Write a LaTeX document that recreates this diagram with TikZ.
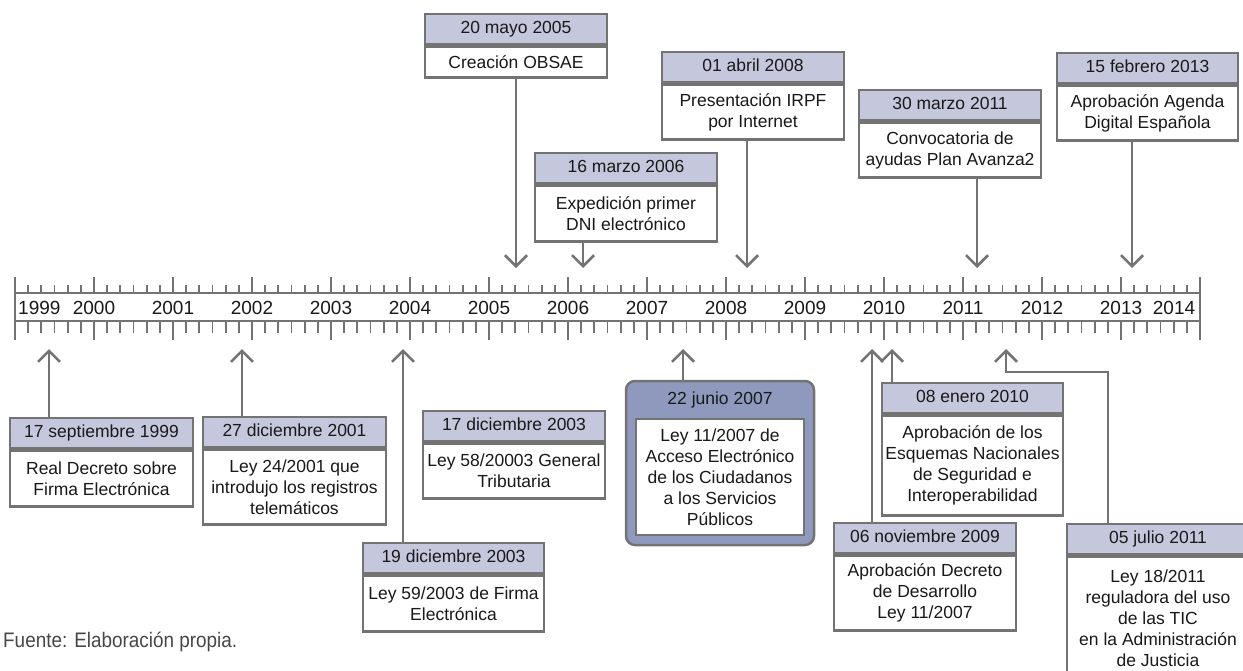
\documentclass[tikz,border=0pt]{standalone}
\usepackage{fontspec}
\setmainfont{Liberation Sans}
\usetikzlibrary{arrows.meta}
\definecolor{lg}{RGB}{115,115,115}
\definecolor{hf}{RGB}{197,199,221}
\definecolor{jf}{RGB}{143,153,190}
\definecolor{tx}{RGB}{25,25,25}
\newcommand\fs{\fontsize{17.5}{21}\selectfont}
\newcommand\tlbox[7]{%
  \node[hdr,minimum width=#4pt] (#1h) at (#2,#3+15) {#6};
  \node[bdy,minimum width=#4pt,minimum height=#5pt,anchor=north] (#1b) at (#1h.south) {#7};}
\begin{document}
\begin{tikzpicture}[x=1pt,y=-1pt,
  hdr/.style={draw=lg,line width=2.5pt,fill=hf,minimum height=30pt,inner sep=0pt,font=\fs,text=tx,text height=12.5pt,text depth=3.5pt},
  bdy/.style={draw=lg,line width=2.5pt,fill=white,align=center,inner sep=0pt,font=\fs,text=tx},
  arr/.style={draw=lg,line width=2.5pt,-{Straight Barb[length=11pt,width=22pt]}},
  tk/.style={draw=lg,line width=2pt},
  tks/.style={draw=lg,line width=1.7pt},
  yr/.style={font=\fontsize{19}{22}\selectfont,text=tx,inner sep=0pt}]
\useasboundingbox (0,0) rectangle (1243,670);
\clip (0,0) rectangle (1243,670);
% timeline
\draw[tk,fill=white] (15,293) rectangle (1200,321);
\foreach \k in {0,...,15} {
  \draw[tk] ({15+79*\k},277) -- ({15+79*\k},293);
  \draw[tk] ({15+79*\k},321) -- ({15+79*\k},340);}
\foreach \k in {0,...,14} {\foreach \j in {1,...,5} {
  \draw[tks] ({15+79*\k+79*\j/6},285) -- ++(0,8);
  \draw[tks] ({15+79*\k+79*\j/6},321) -- ++(0,12);}}
\node[yr,anchor=west] (y1999) at (18,308) {1999};
\foreach \yy [count=\k] in {2000,...,2013} {\node[yr] (y\yy) at ({15+79*\k},308) {\yy};}
\node[yr] (y2014) at (1174,308) {2014};
% top boxes
\tlbox{may}{516}{14}{182}{31}{20 mayo 2005}{Creación OBSAE}
\tlbox{mar}{626}{153}{182}{56}{16 marzo 2006}{Expedición primer\\DNI electrónico}
\tlbox{abr}{753}{52}{182}{55}{01 abril 2008}{Presentación IRPF\\por Internet}
\tlbox{mzo}{950}{90}{182}{55}{30 marzo 2011}{Convocatoria de\\ayudas Plan Avanza2}
\tlbox{feb}{1147.5}{53}{181}{55}{15 febrero 2013}{Aprobación Agenda\\Digital Española}
% bottom boxes
\tlbox{sep}{101.5}{418}{183}{56}{17 septiembre 1999}{Real Decreto sobre\\Firma Electrónica}
\tlbox{dic}{294.5}{417}{183}{75}{27 diciembre 2001}{Ley 24/2001 que\\introdujo los registros\\telemáticos}
\tlbox{dica}{514}{411}{182}{55}{17 diciembre 2003}{Ley 58/20003 General\\Tributaria}
\tlbox{dicb}{453.5}{543}{181}{56}{19 diciembre 2003}{Ley 59/2003 de Firma\\Electrónica}
\tlbox{nov}{925}{523}{182}{75}{06 noviembre 2009}{Aprobación Decreto\\de Desarrollo\\Ley 11/2007}
\tlbox{ene}{972.5}{383}{181}{100}{08 enero 2010}{Aprobación de los\\Esquemas Nacionales\\de Seguridad e\\Interoperabilidad}
\tlbox{jul}{1158}{524}{182}{124}{05 julio 2011}{Ley 18/2011\\reguladora del uso\\de las TIC\\en la Administración\\de Justicia}
% highlighted box
\node[draw=lg,line width=2.5pt,fill=jf,rounded corners=9pt,minimum width=188pt,minimum height=164pt,inner sep=0pt] (junO) at (720,463) {};
\node[font=\fs,text=tx,inner sep=0pt] (junH) at (720,400) {22 junio 2007};
\node[bdy,line width=2pt,minimum width=168pt,minimum height=116pt] (junB) at (720,477) {Ley 11/2007 de\\Acceso Electrónico\\de los Ciudadanos\\a los Servicios\\Públicos};
% tips
\coordinate (tmay) at (516,268);
\coordinate (tmar) at (583,268);
\coordinate (tabr) at (747,268);
\coordinate (tmzo) at (977,268);
\coordinate (tfeb) at (1132,268);
\coordinate (tsep) at (49,349);
\coordinate (tdic) at (242,349);
\coordinate (tdicb) at (403,349);
\coordinate (tjun) at (683,349);
\coordinate (tnov) at (872,349);
\coordinate (tene) at (892,349);
\coordinate (tjul) at (1006,349);
\coordinate (ejul) at (1108,372);
% connectors
\draw[arr] (mayb.south -| tmay) -- (tmay);
\draw[arr] (marb.south -| tmar) -- (tmar);
\draw[arr] (abrb.south -| tabr) -- (tabr);
\draw[arr] (mzob.south -| tmzo) -- (tmzo);
\draw[arr] (febb.south -| tfeb) -- (tfeb);
\draw[arr] (seph.north -| tsep) -- (tsep);
\draw[arr] (dich.north -| tdic) -- (tdic);
\draw[arr] (dicbh.north -| tdicb) -- (tdicb);
\draw[arr] (junO.north -| tjun) -- (tjun);
\draw[arr] (novh.north -| tnov) -- (tnov);
\draw[arr] (eneh.north -| tene) -- (tene);
\draw[arr] (julh.north -| ejul) -- (ejul) -- (ejul -| tjul) -- (tjul);
% source
\node[anchor=west,font=\fontsize{21}{24}\selectfont,text=black!72,inner sep=0pt] (src) at (3,642) {\scalebox{0.9}[1]{Fuente: Elaboración propia.}};
\end{tikzpicture}
\end{document}
